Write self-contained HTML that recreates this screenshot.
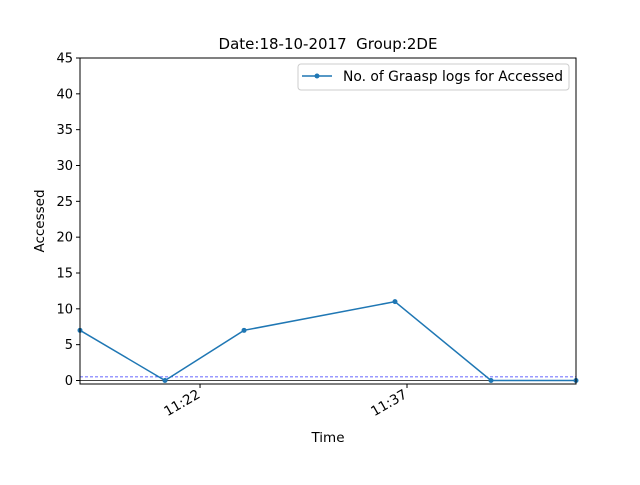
<!DOCTYPE html>
<html><head><meta charset="utf-8"><style>
body{margin:0;background:#fff;font-family:"Liberation Sans","DejaVu Sans",sans-serif}
svg text{font-family:"DejaVu Sans","Liberation Sans",sans-serif;white-space:pre}
</style></head><body>
<svg width="640" height="480" viewBox="0 0 640 480">
<g id="g"></g>
</svg>
<script>
const times=[13.3,19.46,25.19,36.13,43.09,49.25];
const values=[7,0,7,11,0,0];
const yTicks=[0,5,10,15,20,25,30,35,40,45];
const xTickVals=[22,37];
const xTickLabels=["11:22","11:37"];
const L=80,R=576,T=58,B=384;
const xMin=13.3,xMax=49.25,yMin=-0.49,yMax=45;
const X=v=>L+(v-xMin)/(xMax-xMin)*(R-L);
const Y=v=>B-(v-yMin)/(yMax-yMin)*(B-T);
const g=document.getElementById('g');
const NS='http://www.w3.org/2000/svg';
function mk(t,a,txt){const e=document.createElementNS(NS,t);for(const k in a)e.setAttribute(k,a[k]);if(txt!=null)e.textContent=txt;g.appendChild(e);return e;}
let e;
e=mk('line',{x1:L,x2:R,y1:Y(0),y2:Y(0),stroke:'#444','stroke-width':1});


e=mk('line',{x1:L,x2:R,y1:Y(0.5),y2:Y(0.5),stroke:'#33f','stroke-width':0.8,'stroke-dasharray':'3,2'});


e=mk('polyline',{points:times.map((t,i)=>X(t)+','+Y(values[i])).join(' '),fill:'none',stroke:'#1f77b4','stroke-width':1.5});


times.forEach((t,i)=>{e=mk('circle',{cx:X(t),cy:Y(values[i]),r:2.5,fill:'#1f77b4'});

});
e=mk('rect',{x:L,y:T,width:R-L,height:B-T,fill:'none',stroke:'#000','stroke-width':1});


yTicks.forEach(v=>{mk('line',{x1:L-4,x2:L,y1:Y(v),y2:Y(v),stroke:'#000'});
e=mk('text',{x:L-7,y:Y(v)+4.5,'text-anchor':'end','font-size':13},v);

});
xTickVals.forEach((v,i)=>{mk('line',{x1:X(v),x2:X(v),y1:B,y2:B+4,stroke:'#000'});
e=mk('text',{x:X(v)+1,y:B+13,'text-anchor':'end','font-size':13.5,transform:`rotate(-30 ${X(v)+1} ${B+13})`},xTickLabels[i]);

});
e=mk('text',{x:328,y:49,'text-anchor':'middle','font-size':15},'Date:18-10-2017  Group:2DE');


e=mk('text',{x:328,y:442,'text-anchor':'middle','font-size':13.5},'Time');


e=mk('text',{x:44,y:221,'text-anchor':'middle','font-size':13.5,transform:'rotate(-90 44 221)'},'Accessed');


e=mk('rect',{x:298,y:64,width:271,height:26,rx:3,fill:'#fff',stroke:'#ccc'});


mk('line',{x1:302,x2:332,y1:76,y2:76,stroke:'#1f77b4','stroke-width':1.5});
mk('circle',{cx:317,cy:76,r:2.5,fill:'#1f77b4'});
e=mk('text',{x:343,y:81,'font-size':14,textLength:220,lengthAdjust:'spacingAndGlyphs'},'No. of Graasp logs for Accessed');


</script>
</body></html>
